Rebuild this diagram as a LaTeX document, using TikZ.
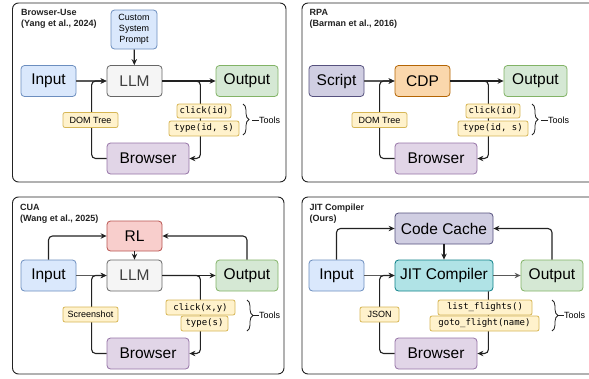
\documentclass[tikz,border=0pt]{standalone}
\usepackage{fontspec}
\setmainfont{Liberation Sans}
\setmonofont{DejaVu Sans Mono}
\usetikzlibrary{arrows.meta,decorations.pathreplacing,calc}
\definecolor{bluef}{HTML}{DAE8FC}\definecolor{blued}{HTML}{6C8EBF}
\definecolor{grayf}{HTML}{F5F5F5}\definecolor{grayd}{HTML}{666666}
\definecolor{greenf}{HTML}{D5E8D4}\definecolor{greend}{HTML}{82B366}
\definecolor{purpf}{HTML}{E1D5E7}\definecolor{purpd}{HTML}{9673A6}
\definecolor{yelf}{HTML}{FFF2CC}\definecolor{yeld}{HTML}{D6B656}
\definecolor{redf}{HTML}{F8CECC}\definecolor{redd}{HTML}{B85450}
\definecolor{oraf}{HTML}{FAD7AC}\definecolor{orad}{HTML}{B46504}
\definecolor{lavf}{HTML}{D0CEE2}\definecolor{lavd}{HTML}{56517E}
\definecolor{cyanf}{HTML}{B0E3E6}\definecolor{cyand}{HTML}{0E8088}
\definecolor{ink}{HTML}{222222}
\tikzset{
  frame/.style={draw=ink, line width=0.9pt, rounded corners=6pt},
  ttl/.style={anchor=north west, align=left, font=\bfseries\fontsize{9}{11}\selectfont, text=ink, inner sep=0pt},
  box/.style={draw, rounded corners=3.5pt, line width=0.8pt, inner sep=0pt, minimum height=31pt, font=\fontsize{15.5}{17}\selectfont},
  bluebox/.style={box, fill=bluef, draw=blued},
  graybox/.style={box, fill=grayf, draw=grayd, text=black!75},
  greenbox/.style={box, fill=greenf, draw=greend},
  purpbox/.style={box, fill=purpf, draw=purpd},
  redbox/.style={box, fill=redf, draw=redd},
  orabox/.style={box, fill=oraf, draw=orad},
  lavbox/.style={box, fill=lavf, draw=lavd},
  cyanbox/.style={box, fill=cyanf, draw=cyand},
  lbl/.style={draw=yeld, fill=yelf, rounded corners=2pt, line width=0.8pt, inner sep=0pt, minimum height=15pt, font=\fontsize{9}{10}\selectfont},
  mono/.style={lbl, font=\ttfamily\fontsize{9}{10}\selectfont},
  arr/.style={draw=ink, line width=1.1pt, -{Stealth[length=6pt,width=5.5pt]}, rounded corners=4pt},
  garr/.style={arr, draw=black!65},
  brc/.style={draw=ink, line width=0.8pt, decorate, decoration={brace, amplitude=6pt}},
  tools/.style={anchor=west, font=\fontsize{9}{10}\selectfont, inner sep=0pt}
}
\begin{document}
\begin{tikzpicture}[x=1pt, y=-1pt]
\useasboundingbox (0,0) rectangle (589,378);
% ---------- frames
\draw[frame] (12.5,3) rectangle (286,182);
\draw[frame] (302,3) rectangle (600,182);
\draw[frame] (12.5,197) rectangle (284,374);
\draw[frame] (302,197) rectangle (600,374);

% ---------- Panel 1: Browser-Use
\node[ttl] (t1) at (21,9) {Browser-Use\\(Yang et al., 2024)};
\node[bluebox, minimum width=46pt, minimum height=39pt, align=center, font=\fontsize{9}{11}\selectfont] (cus1) at (134,29.5) {Custom\\System\\Prompt};
\node[bluebox, minimum width=55pt] (in1) at (48.5,81) {Input};
\node[graybox, minimum width=55pt] (llm1) at (134.5,81) {LLM};
\node[greenbox, minimum width=62pt] (out1) at (247,81) {Output};
\node[purpbox, minimum width=82pt] (br1) at (148,158.5) {Browser};
\draw[garr] (in1) -- (llm1);
\draw[arr] (cus1) -- (llm1);
\draw[arr] (llm1) -- (out1);
\coordinate (d1) at ($(br1.east)+(11,0)$);
\draw[arr] (llm1.east) -| (d1 |- br1.north) |- (br1.east);
\draw[arr] (br1.west) -- ++(-15,0) |- (llm1.west);
\node[lbl, minimum width=55pt] (dom1) at (90.5,120) {DOM Tree};
\node[mono, minimum width=54pt, minimum height=14pt] (ck1) at (204,111) {click(id)};
\node[mono, minimum width=70pt] (ty1) at (204,128.5) {type(id, s)};
\draw[brc] (243,104) -- (243,135);
\node[tools] (to1) at (259,120) {Tools};
\draw[draw=ink, line width=0.8pt] (to1.west) -- ++(-7,0);

% ---------- Panel 2: RPA
\node[ttl] (t2) at (309.5,9) {RPA\\(Barman et al., 2016)};
\node[lavbox, minimum width=55pt] (sc2) at (336.5,81) {Script};
\node[orabox, minimum width=55pt] (cdp2) at (422.5,81) {CDP};
\node[greenbox, minimum width=63pt] (out2) at (535.5,81) {Output};
\node[purpbox, minimum width=82pt] (br2) at (436,158.5) {Browser};
\draw[garr] (sc2) -- (cdp2);
\draw[arr] (cdp2) -- (out2);
\coordinate (d2) at ($(br2.east)+(11,0)$);
\draw[arr] (cdp2.east) -| (d2 |- br2.north) |- (br2.east);
\draw[arr] (br2.west) -- ++(-15,0) |- (cdp2.west);
\node[lbl, minimum width=55pt] (dom2) at (379.5,120) {DOM Tree};
\node[mono, minimum width=54pt, minimum height=14pt] (ck2) at (493,111) {click(id)};
\node[mono, minimum width=70pt] (ty2) at (493,128.5) {type(id, s)};
\draw[brc] (532,104) -- (532,135);
\node[tools] (to2) at (548,120) {Tools};
\draw[draw=ink, line width=0.8pt] (to2.west) -- ++(-7,0);

% ---------- Panel 3: CUA
\node[ttl] (t3) at (20,204) {CUA\\(Wang et al., 2025)};
\node[redbox, minimum width=55pt, minimum height=30pt] (rl3) at (134.5,236) {RL};
\node[bluebox, minimum width=55pt] (in3) at (48.5,275.5) {Input};
\node[graybox, minimum width=55pt] (llm3) at (134.5,275.5) {LLM};
\node[greenbox, minimum width=62pt] (out3) at (247,275.5) {Output};
\node[purpbox, minimum width=82pt] (br3) at (148,353.5) {Browser};
\draw[arr] (in3.north) |- (rl3.west);
\draw[arr] (out3.north) |- (rl3.east);
\draw[arr] (rl3) -- (llm3);
\draw[garr] (in3) -- (llm3);
\draw[arr] (llm3) -- (out3);
\coordinate (d3) at ($(br3.east)+(11,0)$);
\draw[arr] (llm3.east) -| (d3 |- br3.north) |- (br3.east);
\draw[arr] (br3.west) -- ++(-15,0) |- (llm3.west);
\node[lbl, minimum width=55pt] (scr3) at (90.5,314.5) {Screenshot};
\node[mono, minimum width=69pt] (ck3) at (200.5,307.5) {click(x,y)};
\node[mono, minimum width=47pt] (ty3) at (204.5,323.5) {type(s)};
\draw[brc] (247,300) -- (247,331);
\node[tools] (to3) at (259,315.5) {Tools};
\draw[draw=ink, line width=0.8pt] (to3.west) -- ++(-6,0);

% ---------- Panel 4: JIT Compiler
\node[ttl] (t4) at (309.5,204) {JIT Compiler\\(Ours)};
\node[lavbox, minimum width=98pt] (cc4) at (444,228.5) {Code Cache};
\node[bluebox, minimum width=55pt] (in4) at (336.5,275.5) {Input};
\node[cyanbox, minimum width=98pt] (jit4) at (444,275.5) {JIT Compiler};
\node[greenbox, minimum width=62pt] (out4) at (552,275.5) {Output};
\node[purpbox, minimum width=82pt] (br4) at (436,353.5) {Browser};
\draw[arr] (in4.north) |- (cc4.west);
\draw[arr] (out4.north) |- (cc4.east);
\draw[arr] (cc4) -- (jit4);
\draw[garr] (in4) -- (jit4);
\draw[garr] (jit4) -- (out4);
\coordinate (d4) at ($(br4.east)+(11,0)$);
\draw[arr] (jit4.south -| d4) |- (br4.east);
\draw[arr] (br4.west) -- ++(-15,0) |- (jit4.west);
\node[lbl, minimum width=39pt] (js4) at (379.5,314.5) {JSON};
\node[mono, minimum width=94pt] (lf4) at (485,307.5) {list\_flights()};
\node[mono, minimum width=109pt] (gf4) at (484.5,323.5) {goto\_flight(name)};
\draw[brc] (552,300) -- (552,331);
\node[tools] (to4) at (564,315.5) {Tools};
\draw[draw=ink, line width=0.8pt] (to4.west) -- ++(-6,0);
\end{tikzpicture}
\end{document}
